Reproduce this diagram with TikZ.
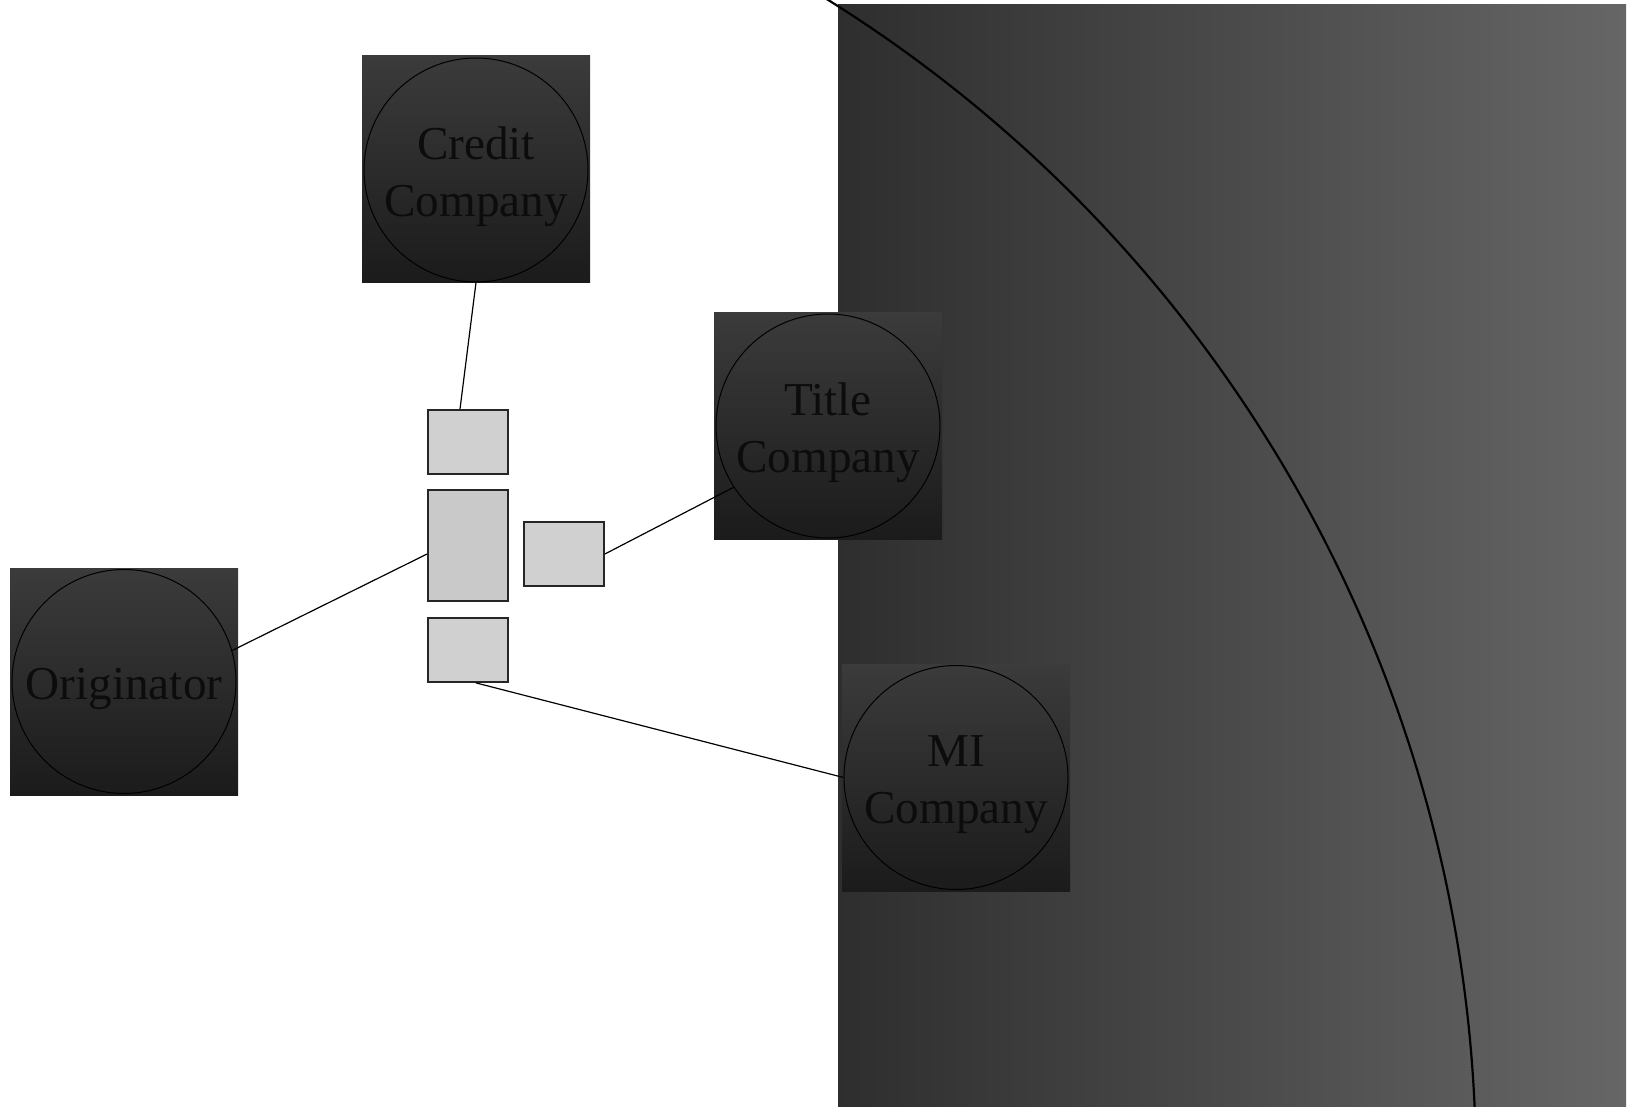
\documentclass[tikz,border=0pt]{standalone}
\usepackage{fontspec}
\setmainfont{Liberation Serif}
\usetikzlibrary{calc}
\definecolor{sqtop}{HTML}{3B3B3B}
\definecolor{sqbot}{HTML}{1B1B1B}
\definecolor{bgl}{HTML}{2E2E2E}
\definecolor{bgr}{HTML}{666666}
\definecolor{rectfill}{HTML}{D0D0D0}
\definecolor{rectfillB}{HTML}{C9C9C9}
\definecolor{rectline}{HTML}{262626}
\definecolor{txt}{HTML}{0C0C0C}
\begin{document}
\begin{tikzpicture}[x=0.5pt,y=-0.5pt,
 sqbox/.style={rectangle, minimum width=114pt, minimum height=113.5pt, inner sep=0pt, top color=sqtop, bottom color=sqbot, draw=none},
 circ/.style={circle, draw=black, line width=0.5pt, minimum size=112pt, inner sep=0pt},
 lbl/.style={align=center, text=txt, inner sep=0pt, font=\fontsize{23.6pt}{28.5pt}\selectfont},
 smallbox/.style={rectangle, draw=rectline, line width=0.9pt, fill=rectfill, minimum width=40pt, minimum height=32pt, inner sep=0pt},
 conn/.style={draw=black, line width=0.6pt},
 bigarc/.style={draw=black, line width=1.1pt}]
\useasboundingbox (0,0) rectangle (1640,1107);
\fill[white] (0,0) rectangle (1640,1107);
\shade[left color=bgl, right color=bgr] (838,5) rectangle (1626,1107);
\begin{scope}
\clip (0,0) rectangle (1640,1107);
\draw[bigarc] (49.2pt,-584.2pt) ++(60:688.8pt) arc[start angle=60, end angle=0, radius=688.8pt];
\end{scope}
% big nodes
\node[sqbox] (creditbg) at (476,169.5) {};
\node[circ] (credit) at (476,170) {};
\node[lbl] (creditlbl) at ($(credit)+(0,7)$) {Credit\\Company};
\node[sqbox] (titlebg) at (828,426) {};
\node[circ] (title) at (828,426) {};
\node[lbl] (titlelbl) at ($(title)+(0,7)$) {Title\\Company};
\node[sqbox] (mibg) at (956,777.5) {};
\node[circ] (mi) at (956,777.5) {};
\node[lbl] (milbl) at ($(mi)+(0,7)$) {MI\\Company};
\node[sqbox] (origbg) at (124,681.5) {};
\node[circ] (orig) at (124,681.5) {};
\node[lbl] (origlbl) at ($(orig)+(0,7)$) {Originator};
% small boxes
\node[smallbox] (r1) at (468,442) {};
\node[smallbox, minimum height=55.5pt, fill=rectfillB] (r2) at (468,545.5) {};
\node[smallbox] (r3) at (564,554) {};
\node[smallbox] (r4) at (468,650) {};
% connectors
\draw[conn] (credit.south) -- ($(r1.north)+(-8,0)$);
\draw[conn] (orig.16) -- ($(r2.west)+(0,8.5)$);
\draw[conn] (r3.east) -- (title.213.7);
\draw[conn] ($(r4.south)+(8,0)$) -- (mi.west);
\end{tikzpicture}
\end{document}
